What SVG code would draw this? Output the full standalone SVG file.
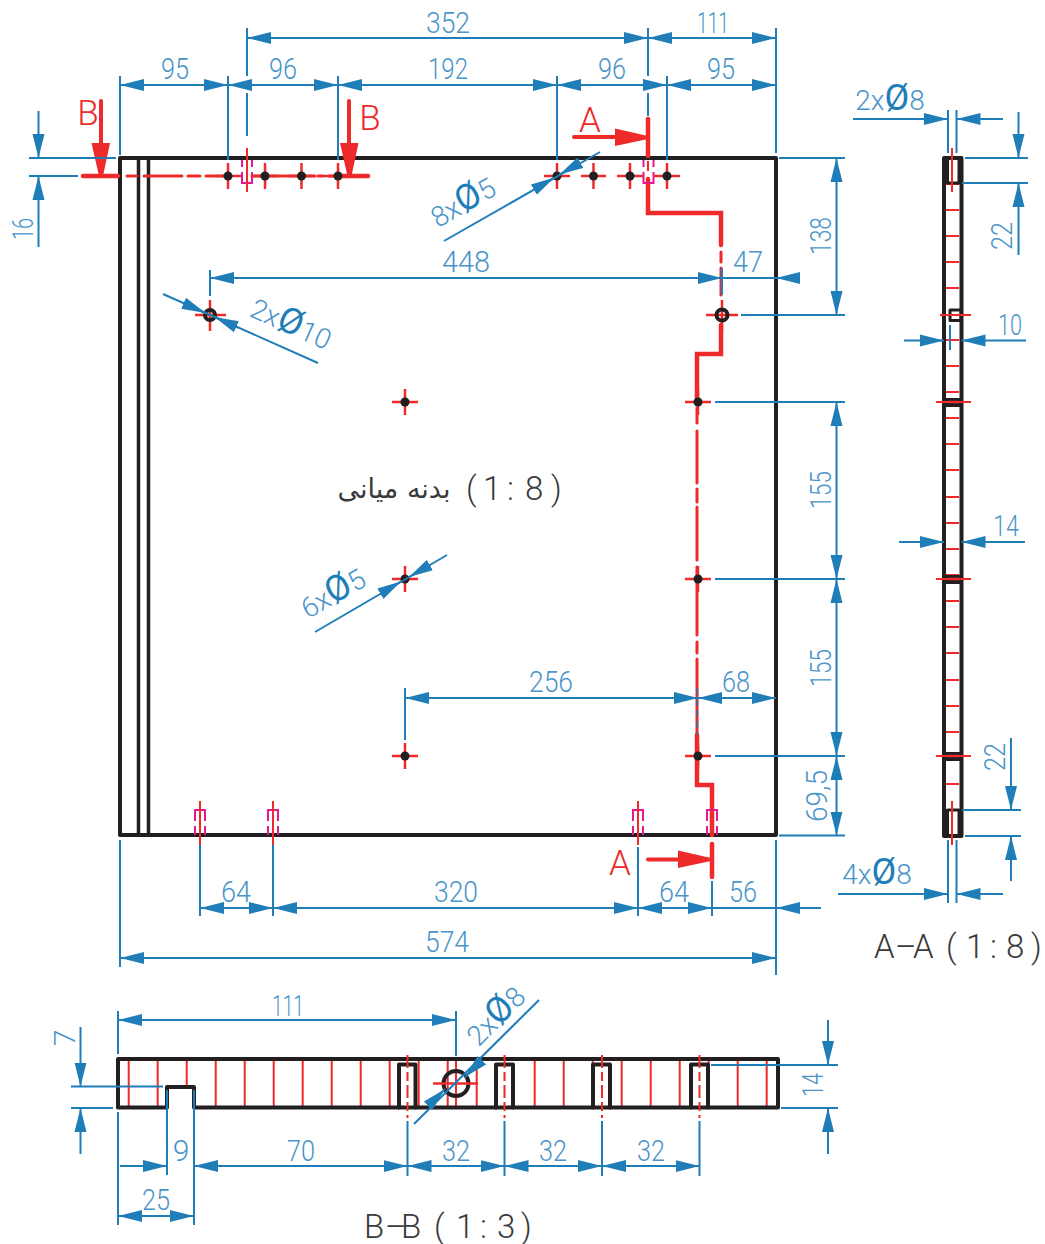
<svg xmlns="http://www.w3.org/2000/svg" width="1045" height="1244" viewBox="0 0 1045 1244">
<style>
text{font-family:Roboto,"Liberation Sans",sans-serif;font-weight:300}
.t{font-size:30px;fill:#4a94c9;text-anchor:middle}
.o{font-weight:400;fill:#1f7eb8;font-size:36px}
.l{font-size:28px}
.k{font-size:33px;fill:#3a3a3a}
.r{font-size:35px;fill:#ee2a2a}
.d{fill:none;stroke:#1f7eb8;stroke-width:2}
.a{marker-end:url(#ar)}
.b{marker-start:url(#as);marker-end:url(#ar)}
.m{fill:none;stroke:#231f20;stroke-width:4;stroke-linejoin:round;stroke-linecap:round}
.n{fill:none;stroke:#ee2a2a;stroke-width:2}
.c{fill:none;stroke:#ee2a2a;stroke-width:2.5}
.s{fill:none;stroke:#ee2a2a;stroke-width:4.5;stroke-linecap:round;stroke-linejoin:miter}
.q{fill:none;stroke:#ee2a2a;stroke-width:3;stroke-linecap:round}
.p{fill:none;stroke:#e6188f;stroke-width:2}
.dot{fill:#231f20}
.ring{fill:none;stroke:#231f20;stroke-width:4}
.ra{fill:#ee2a2a}
</style>
<defs>
<marker id="ar" markerUnits="userSpaceOnUse" markerWidth="25" markerHeight="13" refX="24" refY="6.500" orient="auto"><path d="M0 0.500L24 6.500L0 12.500z" fill="#1f7eb8"/></marker>
<marker id="as" markerUnits="userSpaceOnUse" markerWidth="25" markerHeight="13" refX="24" refY="6.500" orient="auto-start-reverse"><path d="M0 0.500L24 6.500L0 12.500z" fill="#1f7eb8"/></marker>
</defs>

<g id="front-view">
<path class="m" d="M120 158H776V835H120Z"/>
<path class="m" style="stroke-width:3.5" d="M138.500 158V835M148.500 158V835"/>
<g id="section-lines">
<path class="s" d="M83 176H118M338 176H368"/>
<path class="q" d="M127 176H137M144 176H182M188 176H200M206 176H227M252 176H315M318 176H324M329 176H338"/>
<path class="s" d="M648 119V156M648 179V213H721V245M721 325V354H697V402M697 735V785H712V835M712 844V877"/>
<path class="q" d="M721 252V262M721 268V295M697 408V423M697 431V483M697 489V502M697 507V560M697 567V635M697 642V653M697 659V735"/>
<path class="ra" d="M91.500 143H110L103 176H99ZM340 143H358.500L351.500 176H347.500ZM615 128.500L648 136V139L615 146ZM678 850.500L711 858V861L678 868Z"/>
<path class="s" style="stroke-width:4" d="M101 101V145M349 101V145M574 137H616M648 859.500H680"/>
</g>
<g id="hidden-slots">
<path class="p" d="M242 160V167M252 160V167M242 172V183H252V172"/>
<path class="p" d="M643.500 160V167M653.500 160V167M643.500 172V183H653.500V172"/>
<path class="p" d="M195 835V826M195 821V810H205V821M205 826V835"/>
<path class="p" d="M268 835V826M268 821V810H278V821M278 826V835"/>
<path class="p" d="M633 835V826M633 821V810H643V821M643 826V835"/>
<path class="p" d="M707 835V826M707 821V810H717V821M717 826V835"/>
<path class="n" d="M247 148V192M648 161V171M200 801V845M273 801V845M638 801V845"/>
</g>
<g id="holes">
<path class="c" d="M215 176H241M228 163V189M252 176H278M265 163V189M289 176H314M301.500 163V189M325 176H351M338 163V189M544 176H570M557 163V189M581 176H606M593.500 163V189M617 176H643M630 163V189M654 176H680M667 163V189M392 402H418M405 389V415M685 402H711M698 389V415M392 579H418M405 566V592M685 579H711M698 566V592M392 756H418M405 743V769M685 756H711M698 743V769"/>
<circle class="dot" cx="228" cy="176" r="4.500"/><circle class="dot" cx="265" cy="176" r="4.500"/><circle class="dot" cx="301.500" cy="176" r="4.500"/><circle class="dot" cx="338" cy="176" r="4.500"/><circle class="dot" cx="557" cy="176" r="4.500"/><circle class="dot" cx="593.500" cy="176" r="4.500"/><circle class="dot" cx="630" cy="176" r="4.500"/><circle class="dot" cx="667" cy="176" r="4.500"/>
<circle class="dot" cx="405" cy="402" r="4.500"/><circle class="dot" cx="698" cy="402" r="4.500"/><circle class="dot" cx="405" cy="579" r="4.500"/><circle class="dot" cx="698" cy="579" r="4.500"/><circle class="dot" cx="405" cy="756" r="4.500"/><circle class="dot" cx="698" cy="756" r="4.500"/>
<path class="c" d="M195 315H226M210 300V331M706 315H738M722 300V331"/>
<circle class="ring" cx="210" cy="315" r="5"/><circle class="ring" cx="722" cy="315" r="5.500"/>
</g>
<text class="r" x="88" y="125" text-anchor="middle">B</text>
<text class="r" x="370" y="130" text-anchor="middle">B</text>
<text class="r" x="590" y="132" text-anchor="middle">A</text>
<text class="r" x="620" y="875" text-anchor="middle">A</text>
<text class="k" x="394" y="498" text-anchor="middle" style="font-family:'DejaVu Sans',sans-serif;font-size:27px;font-weight:400" direction="rtl">بدنه میانی</text>
<text class="k" x="466 478 483 499 507 518 525 546 551" y="500">( 1 : 8 )</text>
</g>

<g id="side-view">
<path class="n" d="M946 184H959M946 210H959M946 236H959M946 262H959M946 288H959M946 340H959M946 366H959M946 392H959M946 418H959M946 444H959M946 470H959M946 497H959M946 523H959M946 549H959M946 575H959M946 601H959M946 627H959M946 653H959M946 680H959M946 706H959M946 732H959M946 784H959M946 810H959"/>
<path class="m" d="M944 158H961.500V836H944Z"/>
<path class="m" style="stroke-width:3" d="M947.500 158V183H959V158M947.500 836V810H959V836"/>
<path class="m" style="stroke-width:3" d="M950 310H961V320.500H950Z"/>
<path d="M945 398H961V407H945ZM945 575H961V584H945ZM945 752H961V761H945Z" fill="#231f20"/>
<path class="n" d="M952 148V192M952 801V845M940 315H971M936 402H971M936 579H971M936 756H971"/>
<path d="M948 402H959M948 579H959M948 756H959" stroke="#ee2a2a" stroke-width="2.500"/>
<text class="k" x="874 895 913 935 946 955 966 980 990 998 1006 1025 1031" y="958">A–A ( 1 : 8 )</text>
</g>

<g id="bottom-view">
<path class="n" d="M128.700 1061V1106M157.700 1061V1106M186.700 1061V1085M215.700 1061V1106M244.700 1061V1106M273.700 1061V1106M302.700 1061V1106M331.700 1061V1106M360.700 1061V1106M389.700 1061V1106M418.700 1061V1106M447.700 1061V1106M476.700 1061V1106M534.700 1061V1106M563.700 1061V1106M592.700 1061V1106M621.700 1061V1106M650.700 1061V1106M679.700 1061V1106M708.700 1061V1106M737.700 1061V1106M766.700 1061V1106M456 1059V1107"/>
<path class="m" d="M118 1059H778V1107.500H194V1087H167V1107.500H118Z"/>
<path class="m" d="M399 1107.500V1064.500H415.500V1107.500M496 1107.500V1064.500H513V1107.500M593 1107.500V1064.500H610V1107.500M691 1107.500V1064.500H708V1107.500"/>
<path d="M407.500 1055V1118M504.500 1055V1118M602 1055V1118M699.500 1055V1118" stroke="#ee2a2a" stroke-width="2" stroke-dasharray="13 4 9 4" fill="none"/>
<circle cx="456" cy="1083.500" r="12.500" fill="none" stroke="#231f20" stroke-width="4"/>
<path class="c" d="M433 1083.500H478"/>
<text class="k" x="364 385 401 423 434 445 456 470 480 488 497 516 521" y="1238">B–B ( 1 : 3 )</text>
</g>

<g id="connectors">
<!-- front top -->
<path class="d" d="M120 76V155M228 76V160M338 76V160M557 76V160M667 76V160M776 28V153M247 28V76M247 93V136M648 28V76M648 93V116"/>
<path class="d b" d="M247 38H648"/><path class="d b" d="M648 38H776"/>
<path class="d b" d="M120 85H228"/><path class="d b" d="M228 85H338"/><path class="d b" d="M338 85H557"/><path class="d b" d="M557 85H667"/><path class="d b" d="M667 85H776"/>
<path class="d" d="M29 158H116M29 176H78"/>
<path class="d a" d="M38.500 111V158"/><path class="d a" d="M38.500 247V176"/>
<!-- right of front -->
<path class="d" d="M779 158H845M741 315H845M715 402H845M715 579H845M715 756H845M779 835.500H845"/>
<path class="d b" d="M836.500 158V315"/><path class="d b" d="M836.500 402V579"/><path class="d b" d="M836.500 579V756"/><path class="d b" d="M836.500 756V835.500"/>
<!-- inner -->
<path class="d" d="M210 270V296M722 268V295M405 688V740"/>
<path class="d b" d="M210 278H722"/><path class="d a" d="M800 278H776"/><path class="d" d="M722 278H776"/>
<path class="d b" d="M405 698H698"/><path class="d b" d="M698 698H776"/>
<path d="M697.500 688V735" stroke="#1f7eb8" stroke-width="1.500" stroke-dasharray="7 4" fill="none"/>
<!-- bottom of front -->
<path class="d" d="M120 840V967M200 845V916M273 845V916M638 847V916M712 881V916M776 840V975"/>
<path class="d b" d="M200 908H273"/><path class="d b" d="M273 908H638"/><path class="d b" d="M638 908H712"/>
<path class="d" d="M712 908H776"/><path class="d a" d="M821 908H776"/>
<path class="d b" d="M120 958H776"/>
<!-- leaders -->
<path class="d" d="M163 294L318 363"/><path class="d a" d="M184 303.400L205.500 313"/><path class="d a" d="M238 327.500L214.500 317"/>
<path class="d" d="M444 241L600 152"/><path class="d a" d="M534 189.500L554.500 177.500"/><path class="d a" d="M580 163L559.500 174.500"/>
<path class="d" d="M315 632L447 555"/><path class="d a" d="M380 594L401 581.500"/><path class="d a" d="M430 565L409 577"/>
<!-- side view -->
<path class="d" d="M948 110V153M956.500 110V153M965 158H1028M962 183H1028M950 325V350M962 810H1021M965 836H1021M948 840V903M956.500 840V903"/>
<path class="d a" d="M853 119H948"/><path class="d a" d="M1003 119H956.500"/>
<path class="d a" d="M1018.500 112V158"/><path class="d a" d="M1018.500 255V183"/>
<path class="d a" d="M904 340.500H944"/><path class="d a" d="M1026 340.500H961.500"/>
<path class="d a" d="M899 542H944"/><path class="d a" d="M1025 542H961.500"/>
<path class="d a" d="M1011 738V810"/><path class="d a" d="M1011 881V836"/>
<path class="d a" d="M838 894H948"/><path class="d a" d="M1003 894H956.500"/>
<!-- bottom view -->
<path class="d" d="M118 1011V1054M456 1011V1056M71 1086.500H163M71 1108H113M711 1065H838M781 1108H838M167 1090V1175M194 1090V1225M118 1112V1225M407.500 1121V1176M504.500 1121V1176M602 1121V1176M699.500 1121V1176"/>
<path class="d b" d="M118 1020H456"/>
<path class="d a" d="M80.500 1027V1086.500"/><path class="d a" d="M80.500 1154V1108"/>
<path class="d a" d="M828 1020V1065"/><path class="d a" d="M828 1154V1108"/>
<path class="d a" d="M120 1166H167"/><path class="d b" d="M194 1166H407.500"/><path class="d b" d="M407.500 1166H504.500"/><path class="d b" d="M504.500 1166H602"/><path class="d b" d="M602 1166H699.500"/>
<path class="d b" d="M118 1216H194"/>
<path class="d" d="M414 1124L539 1000"/><path class="d a" d="M428 1106L445 1089"/><path class="d a" d="M482 1060L465 1077"/>
</g>

<g id="labels">
<text class="t" x="448" y="33" textLength="44" lengthAdjust="spacingAndGlyphs">352</text>
<text class="t" x="713" y="33" textLength="32" lengthAdjust="spacingAndGlyphs">111</text>
<text class="t" x="175" y="79" textLength="28" lengthAdjust="spacingAndGlyphs">95</text>
<text class="t" x="283" y="79" textLength="28" lengthAdjust="spacingAndGlyphs">96</text>
<text class="t" x="448" y="79" textLength="40" lengthAdjust="spacingAndGlyphs">192</text>
<text class="t" x="612" y="79" textLength="28" lengthAdjust="spacingAndGlyphs">96</text>
<text class="t" x="721" y="79" textLength="28" lengthAdjust="spacingAndGlyphs">95</text>
<text class="t" x="466" y="272" textLength="48" lengthAdjust="spacingAndGlyphs">448</text>
<text class="t" x="748" y="272" textLength="30" lengthAdjust="spacingAndGlyphs">47</text>
<text class="t" x="551" y="692" textLength="44" lengthAdjust="spacingAndGlyphs">256</text>
<text class="t" x="736" y="692" textLength="28" lengthAdjust="spacingAndGlyphs">68</text>
<text class="t" x="236" y="902" textLength="30" lengthAdjust="spacingAndGlyphs">64</text>
<text class="t" x="456" y="902" textLength="44" lengthAdjust="spacingAndGlyphs">320</text>
<text class="t" x="674" y="902" textLength="30" lengthAdjust="spacingAndGlyphs">64</text>
<text class="t" x="743" y="902" textLength="28" lengthAdjust="spacingAndGlyphs">56</text>
<text class="t" x="447" y="952" textLength="44" lengthAdjust="spacingAndGlyphs">574</text>
<text class="t" transform="translate(33,229) rotate(-90)" textLength="22" lengthAdjust="spacingAndGlyphs">16</text>
<text class="t" transform="translate(831,236) rotate(-90)" textLength="38" lengthAdjust="spacingAndGlyphs">138</text>
<text class="t" transform="translate(831,490) rotate(-90)" textLength="38" lengthAdjust="spacingAndGlyphs">155</text>
<text class="t" transform="translate(831,668) rotate(-90)" textLength="38" lengthAdjust="spacingAndGlyphs">155</text>
<text class="t" transform="translate(827,796) rotate(-90)" textLength="52" lengthAdjust="spacingAndGlyphs">69,5</text>
<text class="t" x="1010" y="335" textLength="24" lengthAdjust="spacingAndGlyphs">10</text>
<text class="t" x="1006" y="536" textLength="26" lengthAdjust="spacingAndGlyphs">14</text>
<text class="t" transform="translate(1012,236) rotate(-90)" textLength="28" lengthAdjust="spacingAndGlyphs">22</text>
<text class="t" transform="translate(1005,757) rotate(-90)" textLength="28" lengthAdjust="spacingAndGlyphs">22</text>
<text class="t" x="288" y="1016" textLength="32" lengthAdjust="spacingAndGlyphs">111</text>
<text class="t" x="181" y="1161">9</text>
<text class="t" x="301" y="1161" textLength="28" lengthAdjust="spacingAndGlyphs">70</text>
<text class="t" x="156" y="1210" textLength="28" lengthAdjust="spacingAndGlyphs">25</text>
<text class="t" x="456" y="1161" textLength="28" lengthAdjust="spacingAndGlyphs">32</text>
<text class="t" x="553" y="1161" textLength="28" lengthAdjust="spacingAndGlyphs">32</text>
<text class="t" x="651" y="1161" textLength="28" lengthAdjust="spacingAndGlyphs">32</text>
<text class="t" transform="translate(75,1038) rotate(-90)">7</text>
<text class="t" transform="translate(823,1085) rotate(-90)" textLength="24" lengthAdjust="spacingAndGlyphs">14</text>
<text class="t l" x="890" y="110">2x<tspan class="o">Ø</tspan>8</text>
<text class="t l" x="877" y="884">4x<tspan class="o">Ø</tspan>8</text>
<text class="t l" transform="translate(287,333) rotate(24)">2x<tspan class="o">Ø</tspan>10</text>
<text class="t l" transform="translate(468,211) rotate(-30)">8x<tspan class="o">Ø</tspan>5</text>
<text class="t l" transform="translate(338,602) rotate(-30)">6x<tspan class="o">Ø</tspan>5</text>
<text class="t l" transform="translate(503,1023) rotate(-45)">2x<tspan class="o">Ø</tspan>8</text>
</g>
</svg>
